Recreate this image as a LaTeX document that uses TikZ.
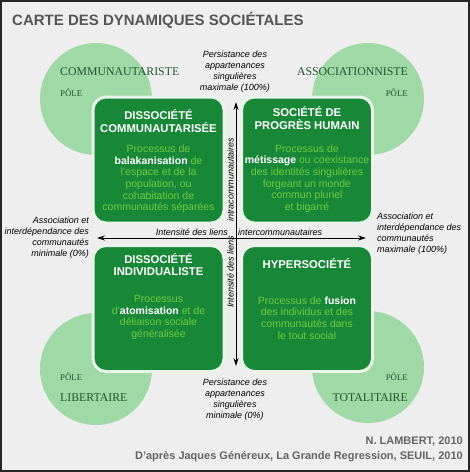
\documentclass[tikz,border=0pt]{standalone}
\usepackage{fontspec}
\setsansfont{Liberation Sans}
\newfontfamily\polefont{Liberation Serif}
\usetikzlibrary{arrows.meta}
\definecolor{bggray}{RGB}{238,238,238}
\definecolor{polegreen}{RGB}{158,217,166}
\definecolor{boxgreen}{RGB}{24,136,56}
\definecolor{boxedge}{RGB}{232,245,232}
\definecolor{bodygreen}{RGB}{112,204,60}
\definecolor{poletext}{RGB}{35,85,45}
\definecolor{titlegray}{RGB}{85,85,85}
\definecolor{footgray}{RGB}{100,100,100}
\begin{document}
\begin{tikzpicture}[x=1pt,y=-1pt,
  pole/.style={circle, fill=polegreen, minimum size=112pt, inner sep=0pt},
  box/.style={draw=boxedge, line width=3pt, fill=boxgreen, rounded corners=13pt, minimum width=131pt, minimum height=126pt, inner sep=0pt},
  boxtitle/.style={font=\sffamily\bfseries\fontsize{11.3}{12.5}\selectfont, text=white, align=center, inner sep=0pt},
  boxbody/.style={font=\sffamily\fontsize{10.5}{11.6}\selectfont, text=bodygreen, align=center, inner sep=0pt},
  lbl/.style={font=\sffamily\itshape\fontsize{9}{11}\selectfont, text=black, inner sep=0pt},
  polename/.style={font=\polefont\fontsize{11.8}{12}\selectfont, text=poletext, inner sep=0pt},
  poleword/.style={font=\polefont\fontsize{8.8}{9}\selectfont, text=poletext, inner sep=0pt},
  foot/.style={font=\sffamily\bfseries\fontsize{11}{13}\selectfont, text=footgray, inner sep=0pt},
  axis/.style={line width=0.8pt, {Stealth[length=8pt,width=5pt]}-{Stealth[length=8pt,width=5pt]}},
]
\newcommand{\kwd}[1]{\textcolor{white}{\bfseries #1}}
% background and frame
\fill[bggray] (0,0) rectangle (470,472);
\draw[line width=2pt, black!85] (1,1) rectangle (469,471);
\useasboundingbox (0,0) rectangle (470,472);

% title
\node[font=\sffamily\bfseries\fontsize{15}{18}\selectfont, text=titlegray, anchor=west, inner sep=0pt] (title) at (12,20) {CARTE DES DYNAMIQUES SOCIÉTALES};

% pole circles
\node[pole] (ctl) at (96,99) {};
\node[pole] (ctr) at (368,99) {};
\node[pole] (cbl) at (96,369) {};
\node[pole] (cbr) at (368,367) {};

% pole labels
\node[polename, anchor=base west] (ptl) at (60,75) {COMMUNAUTARISTE};
\node[poleword, anchor=base west] (ptlw) at (60,96) {PÔLE};
\node[polename, anchor=base east] (ptr) at (408,75) {ASSOCIATIONNISTE};
\node[poleword, anchor=base east] (ptrw) at (408,96) {PÔLE};
\node[poleword, anchor=base west] (pblw) at (60,380) {PÔLE};
\node[polename, anchor=base west] (pbl) at (60,401) {LIBERTAIRE};
\node[poleword, anchor=base east] (pbrw) at (408,380) {PÔLE};
\node[polename, anchor=base east] (pbr) at (408,401) {TOTALITAIRE};

% boxes
\node[box] (btl) at (158.5,160) {};
\node[box] (btr) at (307,160) {};
\node[box] (bbl) at (158.5,308.5) {};
\node[box] (bbr) at (307,308.5) {};

% box texts
\node[boxtitle] (ttl) at (158.5,121) {DISSOCIÉTÉ\\COMMUNAUTARISÉE};
\node[boxbody] (xtl) at (158.5,179) {Processus de\\\kwd{balakanisation} de\\l'espace et de la\\population, ou\\cohabitation de\\communautés séparées};
\node[boxtitle] (ttr) at (307,118) {SOCIÉTÉ DE\\PROGRÈS HUMAIN};
\node[boxbody] (xtr) at (307,178.5) {Processus de\\\kwd{métissage} ou coexistance\\des identités singulières\\forgeant un monde\\commun pluriel\\et bigarré};
\node[boxtitle] (tbl) at (158.5,264.5) {DISSOCIÉTÉ\\INDIVIDUALISTE};
\node[boxbody] (xbl) at (158.5,317.5) {Processus\\d'\kwd{atomisation} et de\\déliaison sociale\\généralisée};
\node[boxtitle] (tbr) at (307,264) {HYPERSOCIÉTÉ};
\node[boxbody] (xbr) at (307,318) {Processus de \kwd{fusion}\\des individus et des\\communautés dans\\le tout social};

% axes
\coordinate (vtop) at (236,102);
\coordinate (vbot) at (236,366);
\coordinate (hleft) at (97,238);
\coordinate (hright) at (366,238);
\draw[axis] (vbot) -- (vtop);
\draw[axis] (hleft) -- (hright);

% axis labels
\node[lbl, anchor=base east] (hl1) at (228,235) {Intensité des liens};
\node[lbl, anchor=base west] (hl2) at (238,235) {intercommunautaires};
\node[lbl, anchor=base west, rotate=90] (vl1) at (233.5,308) {Intensité des liens};
\node[lbl, anchor=base west, rotate=90] (vl2) at (233.5,222) {intracommunautaires};

% extremity labels
\node[lbl, align=center] (top) at (235,71.5) {Persistance des\\appartenances\\singulières\\maximale (100\%)};
\node[lbl, align=center] (bot) at (235,399.5) {Persistance des\\appartenances\\singulières\\minimale (0\%)};
\node[lbl, align=right, anchor=east] (lft) at (89,237.5) {Association et\\interdépendance des\\communautés\\minimale (0\%)};
\node[lbl, align=left, anchor=west] (rgt) at (377,234) {Association et\\interdépendance des\\communautés\\maximale (100\%)};

% footer
\node[foot, anchor=base east] (f1) at (463,444) {N. LAMBERT, 2010};
\node[foot, anchor=base east] (f2) at (463,459) {D'après Jaques Généreux, La Grande Regression, SEUIL, 2010};
\end{tikzpicture}
\end{document}
